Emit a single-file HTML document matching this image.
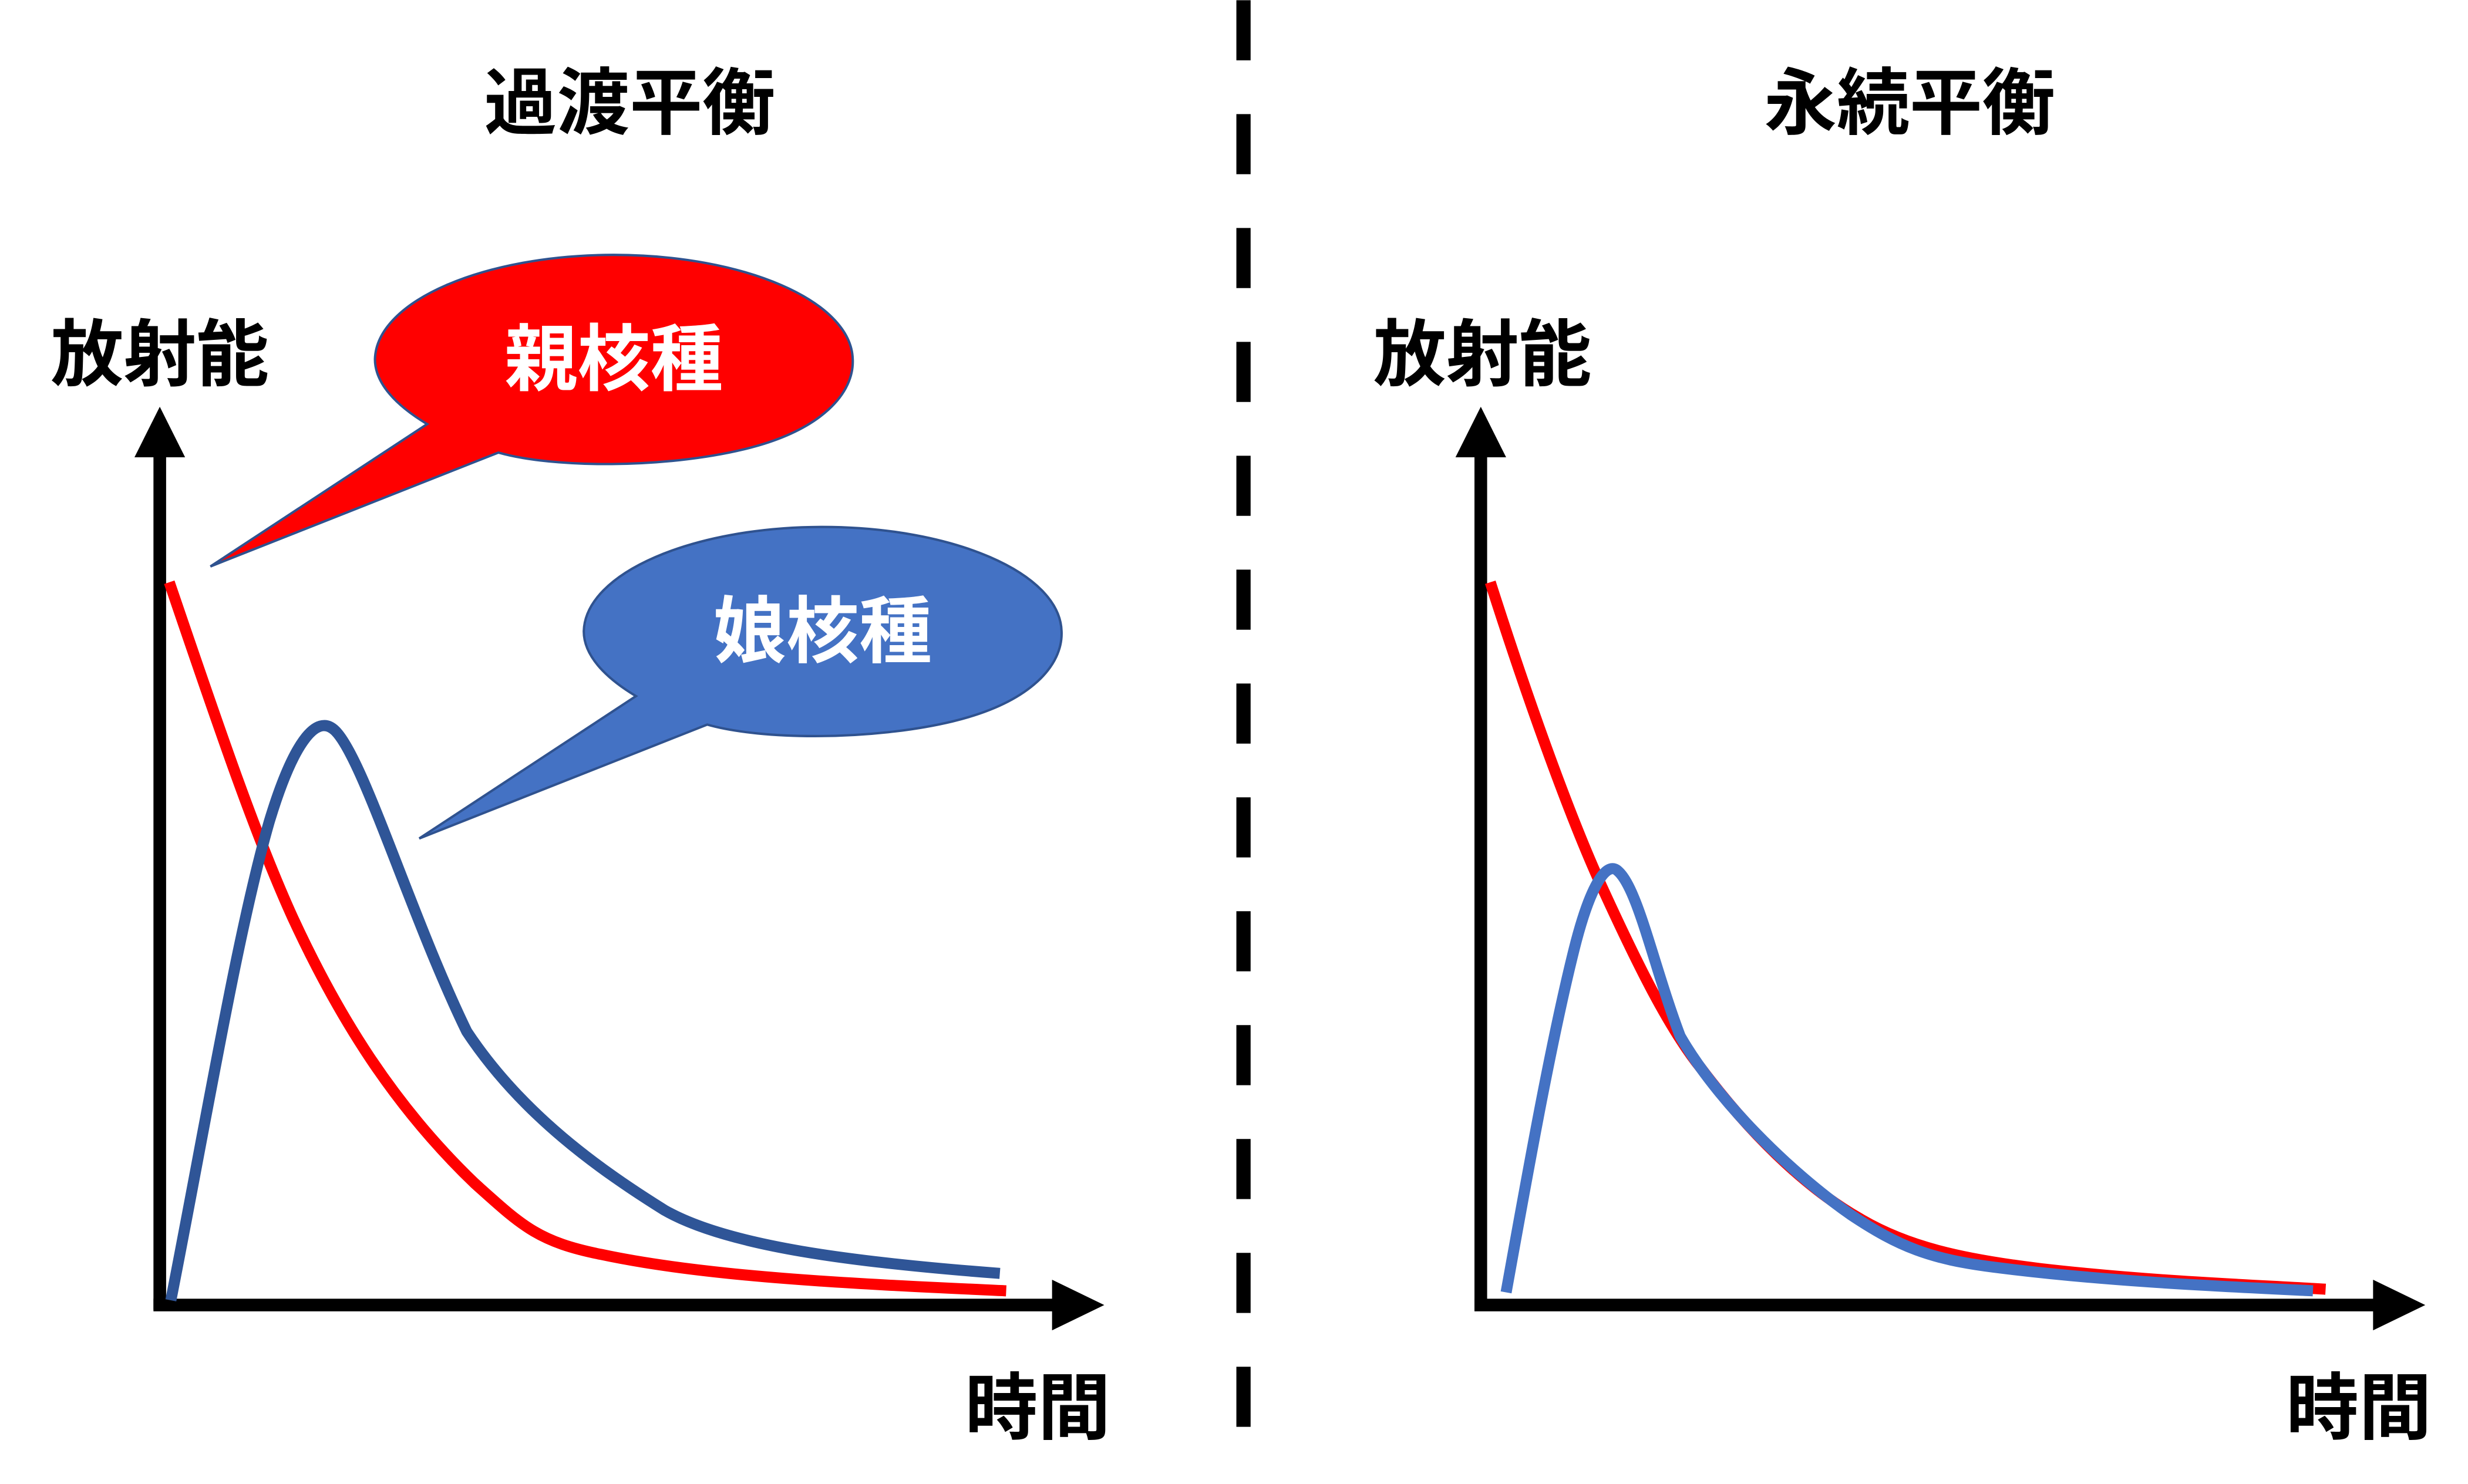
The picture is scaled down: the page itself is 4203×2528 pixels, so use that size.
<!DOCTYPE html>
<html><head><meta charset="utf-8"><style>
html,body{margin:0;padding:0;background:#fff;}
svg{display:block;}
text{font-family:"Liberation Sans","Noto Sans CJK JP",sans-serif;font-weight:bold;}
</style></head><body>
<svg width="4203" height="2528" viewBox="0 0 1560 938" xmlns="http://www.w3.org/2000/svg">
<rect width="1560" height="938" fill="#fff"/>
<!-- titles -->
<text x="398" y="81" font-size="46" text-anchor="middle" fill="#000">過渡平衡</text>
<text x="1207" y="81" font-size="46" text-anchor="middle" fill="#000">永続平衡</text>
<!-- dashed divider -->
<line x1="786" y1="0" x2="786" y2="905" stroke="#000" stroke-width="9" stroke-dasharray="38,34"/>
<!-- left axes -->
<line x1="101" y1="828" x2="101" y2="285" stroke="#000" stroke-width="8"/>
<polygon points="101,257 85,289 117,289" fill="#000"/>
<line x1="97" y1="825" x2="668" y2="825" stroke="#000" stroke-width="8"/>
<polygon points="698,825 665,809 665,841" fill="#000"/>
<text x="101" y="240" font-size="46" text-anchor="middle" fill="#000">放射能</text>
<text x="656" y="906" font-size="46" text-anchor="middle" fill="#000">時間</text>
<!-- right axes -->
<line x1="936" y1="828" x2="936" y2="285" stroke="#000" stroke-width="8"/>
<polygon points="936,257 920,289 952,289" fill="#000"/>
<line x1="932" y1="825" x2="1503" y2="825" stroke="#000" stroke-width="8"/>
<polygon points="1533,825 1500,809 1500,841" fill="#000"/>
<text x="937" y="240" font-size="46" text-anchor="middle" fill="#000">放射能</text>
<text x="1491" y="906" font-size="46" text-anchor="middle" fill="#000">時間</text>
<!-- left curves -->
<path d="M107,368 C135,450 160,525 185,580 C215,645 250,700 300,748 C330,775 340,785 380,793 C450,808 550,812 636,816" fill="none" stroke="#ff0000" stroke-width="7"/>
<path d="M108,822 C130,710 150,590 170,520 C185,470 200,450 212,462 C230,480 260,580 295,652 C330,705 380,740 420,765 C460,788 540,798 632,805" fill="none" stroke="#2F5597" stroke-width="7"/>
<!-- bubbles -->
<path d="M270,268 L133,358 L315,286 C350,296 420,296 470,284 C520,272 540,248 539,227 C538,190 470,161 388,161 C306,161 238,190 237,227 C237,242 250,256 270,268 Z" fill="#ff0000" stroke="#2F528F" stroke-width="1.5"/>
<text x="388" y="243" font-size="46" text-anchor="middle" fill="#fff">親核種</text>
<path d="M402,440 L265,530 L447,458 C482,468 552,468 602,456 C652,444 672,420 671,399 C670,362 602,333 520,333 C438,333 370,362 369,399 C369,414 382,428 402,440 Z" fill="#4472C4" stroke="#2F528F" stroke-width="1.5"/>
<text x="520" y="415" font-size="46" text-anchor="middle" fill="#fff">娘核種</text>
<!-- right curves -->
<path d="M942,368 C965,440 990,510 1010,555 C1035,610 1055,650 1075,675 C1105,715 1140,750 1175,770 C1205,788 1240,796 1290,802 C1360,810 1420,812 1470,815" fill="none" stroke="#ff0000" stroke-width="7"/>
<path d="M952,817 C965,745 980,660 995,600 C1005,560 1015,545 1022,550 C1035,560 1045,610 1062,655 C1085,695 1130,740 1170,768 C1200,788 1220,796 1260,801 C1330,810 1400,813 1462,816" fill="none" stroke="#4472C4" stroke-width="7"/>
</svg>
</body></html>
